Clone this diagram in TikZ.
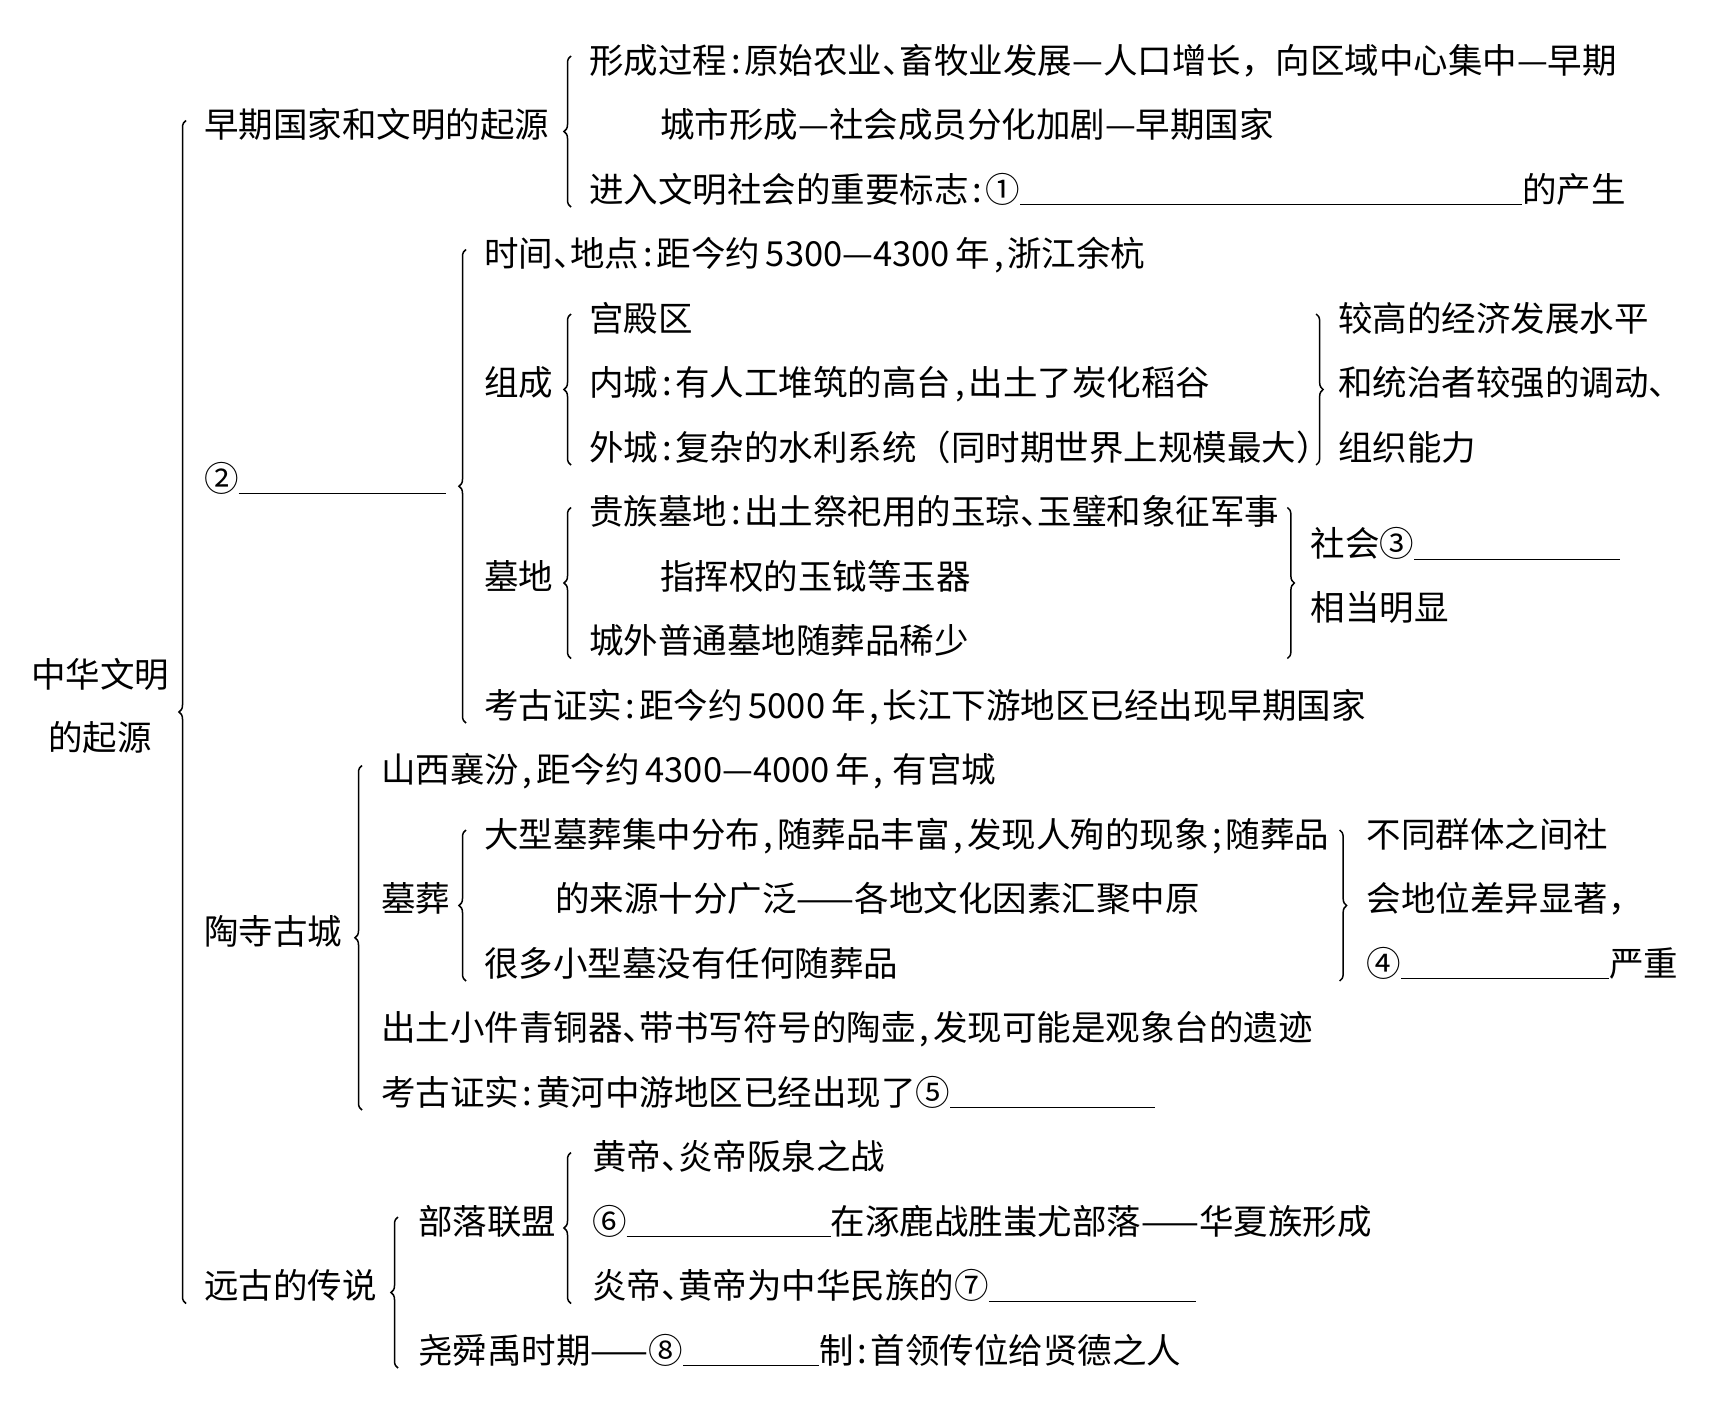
\documentclass[tikz,border=0pt]{standalone}
\usepackage{fontspec}
\setmainfont{Noto Sans CJK SC}
\usetikzlibrary{calc,positioning,decorations.pathreplacing}

\newcommand{\hp}[1]{\makebox[0.5em][c]{#1}}
\newcommand{\dun}{\makebox[0.5em][l]{、}}
\newcommand{\blank}[1]{\rule[-0.1em]{#1}{1.3pt}}

\tikzset{
  item/.style={anchor=base west, inner sep=0pt, yshift=-13pt,
    font=\fontsize{34.5}{63}\selectfont},
  lbrace/.style={decorate, decoration={brace, amplitude=7pt}, line width=1.5pt},
  rbrace/.style={lbrace}
}

\begin{document}
\begin{tikzpicture}[x=1pt, y=-1pt]
  \fill[white] (0,0) rectangle (1733,1414);

  % root and first level
  \node[inner sep=0pt, align=center, font=\fontsize{34.5}{63}\selectfont] (root) at (100,706) {中华文明\\的起源};
  \node[item] (early) at (204,124.5) {早期国家和文明的起源};
  \node[item] (liangzhu) at (204,478) {②\blank{207pt}};
  \node[item] (taosi) at (204,931) {陶寺古城};
  \node[item] (legend) at (204,1285.5) {远古的传说};

  % early states
  \node[item] (form1) at (589,60) {形成过程\hp{:}原始农业\dun 畜牧业发展—人口增长，向区域中心集中—早期};
  \node[item] (form2) at (660,124.5) {城市形成—社会成员分化加剧—早期国家};
  \node[item] (mark) at (589,189) {进入文明社会的重要标志\hp{:}①\blank{502pt}的产生};

  % liangzhu
  \node[item] (timeplace) at (484,253.5) {时间\dun 地点\hp{:}距今约\,5300—4300\,年\hp{,}浙江余杭};
  \node[item] (compose) at (484,382.5) {组成};
  \node[item] (palace) at (589,318) {宫殿区};
  \node[item] (inner) at (589,382.5) {内城\hp{:}有人工堆筑的高台\hp{,}出土了炭化稻谷};
  \node[item] (ocity) at (589,447) {外城\hp{:}复杂的水利系统（同时期世界上规模最大）};
  \coordinate (zr) at ($(ocity.base east)+(-15,0)$);
  \node[item] (econ1) at ($(zr |- palace.base)+(22,-13)$) {较高的经济发展水平};
  \node[item] (econ2) at ($(zr |- inner.base)+(22,-13)$) {和统治者较强的调动、};
  \node[item] (econ3) at ($(zr |- ocity.base)+(22,-13)$) {组织能力};

  \node[item] (tombs) at (484,576) {墓地};
  \node[item] (noble) at (589,511.5) {贵族墓地\hp{:}出土祭祀用的玉琮\dun 玉璧和象征军事};
  \node[item] (noble2) at (660,576) {指挥权的玉钺等玉器};
  \node[item] (common) at (589,640.5) {城外普通墓地随葬品稀少};
  \coordinate (mr) at ($(noble.base east)+(8,0)$);
  \node[item] (rank1) at ($(mr)+(23,19)$) {社会③\blank{206pt}};
  \node[item] (rank2) at ($(mr)+(23,83)$) {相当明显};
  \node[item] (proofa) at (484,705) {考古证实\hp{:}距今约\,5000\,年\hp{,}长江下游地区已经出现早期国家};

  % taosi
  \node[item] (site) at (381,769.5) {山西襄汾\hp{,}距今约\,4300—4000\,年\hp{,}\,有宫城};
  \node[item] (burial) at (381,898.5) {墓葬};
  \node[item] (large) at (484,834) {大型墓葬集中分布\hp{,}随葬品丰富\hp{,}发现人殉的现象\hp{;}随葬品};
  \node[item] (source) at (555,898.5) {的来源十分广泛——各地文化因素汇聚中原};
  \node[item] (small) at (484,963) {很多小型墓没有任何随葬品};
  \coordinate (br) at ($(large.base east)+(10,0)$);
  \node[item] (gap1) at ($(br |- large.base)+(27,-13)$) {不同群体之间社};
  \node[item] (gap2) at ($(br |- source.base)+(27,-13)$) {会地位差异显著，};
  \node[item] (gap3) at ($(br |- small.base)+(27,-13)$) {④\blank{208pt}严重};
  \node[item] (bronze) at (381,1027.5) {出土小件青铜器\dun 带书写符号的陶壶\hp{,}发现可能是观象台的遗迹};
  \node[item] (proofb) at (381,1092) {考古证实\hp{:}黄河中游地区已经出现了⑤\blank{205pt}};

  % legends
  \node[item] (alliance) at (418,1221) {部落联盟};
  \node[item] (war1) at (592,1156.5) {黄帝\dun 炎帝阪泉之战};
  \node[item] (war2) at (592,1221) {⑥\blank{204pt}在涿鹿战胜蚩尤部落——华夏族形成};
  \node[item] (ances) at (592,1285.5) {炎帝\dun 黄帝为中华民族的⑦\blank{207pt}};
  \node[item] (yao) at (418,1350) {尧舜禹时期——⑧\blank{136pt}制\hp{:}首领传位给贤德之人};

  % braces
  \draw[lbrace] ($(legend.base west)+(-18,5)$) -- ($(early.base west)+(-18,-17)$);
  \draw[lbrace] ($(mark.base west)+(-18,5)$) -- ($(form1.base west)+(-18,-17)$);
  \draw[lbrace] ($(proofa.base west)+(-18,5)$) -- ($(timeplace.base west)+(-18,-17)$);
  \draw[lbrace] ($(ocity.base west)+(-18,5)$) -- ($(palace.base west)+(-18,-17)$);
  \draw[rbrace] ($(zr |- palace.base)+(0,-17)$) -- ($(zr)+(0,5)$);
  \draw[lbrace] ($(common.base west)+(-18,5)$) -- ($(noble.base west)+(-18,-17)$);
  \draw[rbrace] ($(mr)+(0,-17)$) -- ($(mr |- common.base)+(0,5)$);
  \draw[lbrace] ($(proofb.base west)+(-19,5)$) -- ($(site.base west)+(-19,-17)$);
  \draw[lbrace] ($(small.base west)+(-18,5)$) -- ($(large.base west)+(-18,-17)$);
  \draw[rbrace] ($(br)+(0,-17)$) -- ($(br |- small.base)+(0,5)$);
  \draw[lbrace] ($(yao.base west)+(-20,5)$) -- ($(alliance.base west)+(-20,-17)$);
  \draw[lbrace] ($(ances.base west)+(-21,5)$) -- ($(war1.base west)+(-21,-17)$);
\end{tikzpicture}
\end{document}
